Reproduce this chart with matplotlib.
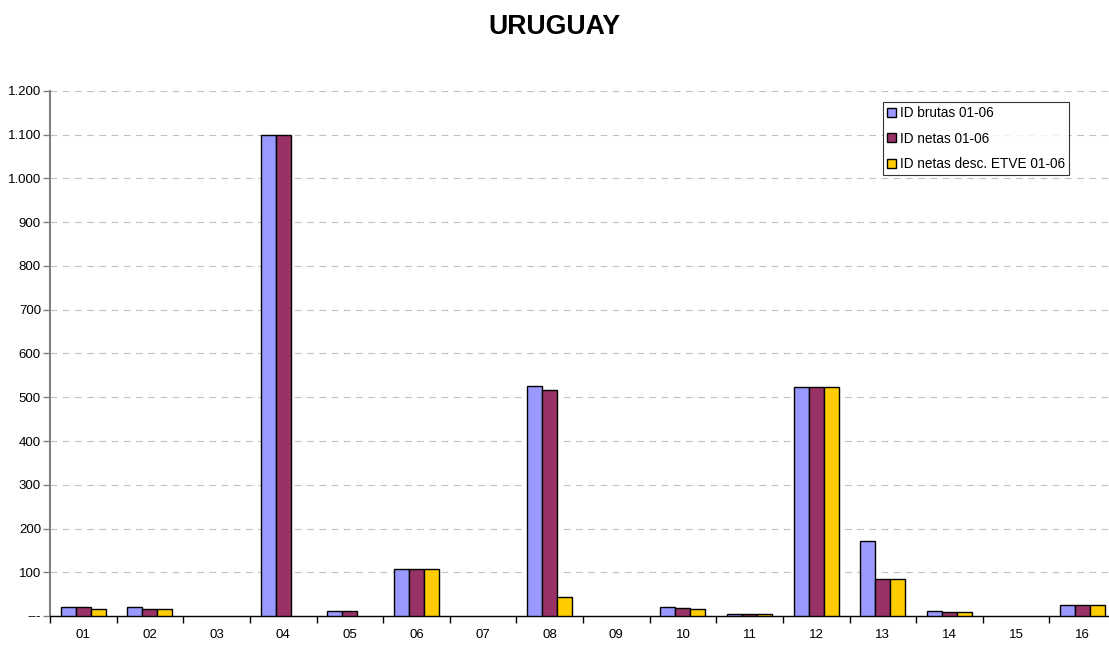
import numpy as np
import matplotlib.pyplot as plt
from matplotlib.ticker import FixedLocator

plt.rcParams['font.family'] = ['Liberation Sans', 'DejaVu Sans']

# datos
categorias = ["01", "02", "03", "04", "05", "06", "07", "08",
              "09", "10", "11", "12", "13", "14", "15", "16"]
brutas = [20, 21, 0, 1100, 11, 107, 0, 525, 0, 20, 4, 523, 171, 11, 0, 26]
netas = [20, 16, 0, 1100, 11, 107, 0, 517, 0, 18, 4, 523, 84, 8.5, 0, 26]
netas_etve = [17, 16, 0, 0, 0, 107, 0, 43, 0, 16, 4, 523, 84, 8.5, 0, 26]
yticks = [0, 100, 200, 300, 400, 500, 600, 700, 800, 900, 1000, 1100, 1200]
ylabels = ["---", "100", "200", "300", "400", "500", "600", "700", "800",
           "900", "1.000", "1.100", "1.200"]

fig = plt.figure(figsize=(11.09, 6.46), dpi=100)
ax = fig.add_axes([50 / 1109, 30 / 646, 1066 / 1109, 525 / 646])

x = np.arange(len(categorias))
w = 0.225
series = [(brutas, "#9999FF", "ID brutas 01-06"),
          (netas, "#993366", "ID netas 01-06"),
          (netas_etve, "#FFCC00", "ID netas desc. ETVE 01-06")]
for i, (vals, col, lab) in enumerate(series):
    v = np.array(vals, dtype=float)
    v[v == 0] = np.nan  # sin barra para ceros
    ax.bar(x + (i - 1) * w, v, w, color=col, edgecolor="black",
           linewidth=1.0, label=lab, zorder=3)

ax.set_xlim(-0.5, len(categorias) - 0.5)
ax.set_ylim(0, 1200)
ax.set_yticks(yticks)
ax.set_yticklabels(ylabels, fontsize=9.5)
ax.set_xticks(x)
ax.set_xticklabels(categorias, fontsize=9.5)
ax.xaxis.set_minor_locator(FixedLocator(np.arange(-0.5, len(categorias), 1)))
ax.tick_params(axis="x", which="major", length=0, pad=9)
ax.tick_params(axis="x", which="minor", length=5, width=1, direction="out")
ax.tick_params(axis="y", length=5, width=1, color="#808080", pad=1.5)

ax.grid(axis="y", color="#c0c0c0", linestyle=(0, (6, 5)), linewidth=0.8, zorder=0)
for s in ["top", "right"]:
    ax.spines[s].set_visible(False)
ax.spines["left"].set_color("#808080")
ax.spines["left"].set_linewidth(1.5)
ax.spines["bottom"].set_color("black")
ax.spines["bottom"].set_linewidth(1.0)

leg = ax.legend(loc="upper right", bbox_to_anchor=(0.956, 0.979), fontsize=9.8,
                frameon=True, fancybox=False, edgecolor="black",
                handlelength=0.65, handleheight=0.65, handletextpad=0.3,
                borderpad=0.3, labelspacing=0.85, borderaxespad=0)
leg.get_frame().set_linewidth(0.8)

fig.text(0.5, 0.958, "URUGUAY", ha="center", va="center",
         fontsize=19.2, fontweight="bold")

fig.savefig("out.png", dpi=100)
